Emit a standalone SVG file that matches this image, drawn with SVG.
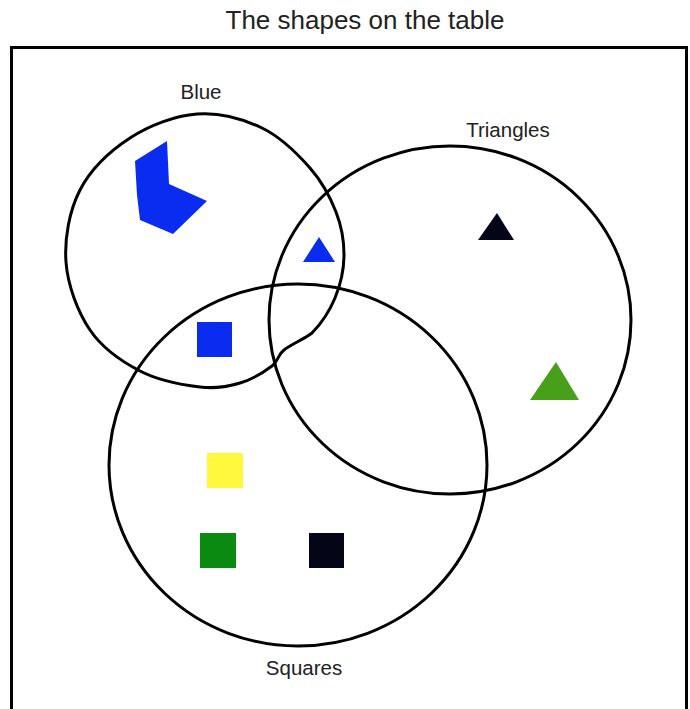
<svg xmlns="http://www.w3.org/2000/svg" width="690" height="709" viewBox="0 0 690 709">
  <style>
    .set { fill: none; stroke: #000; stroke-width: 3; stroke-linejoin: round; }
    .label { font-family: "Liberation Sans", Arial, sans-serif; fill: #222; }
    .lbl { font-size: 20.5px; text-anchor: middle; }
    .title { font-size: 26px; text-anchor: middle; }
  </style>
  <rect width="690" height="709" fill="#fff"/>
  <text class="label title" x="365" y="29">The shapes on the table</text>
  <rect id="table" x="11.5" y="47.5" width="675" height="700" fill="none" stroke="#000" stroke-width="3"/>

  <g id="set-blue">
    <path class="set" d="M197,114 C219,112.3 243.2,119 262,128 C280.8,137 297.7,154 310,168 C322.3,182 330.3,197.3 336,212 C341.7,226.7 344.2,241.7 344,256 C343.8,270.3 340.3,285.2 335,298 C329.7,310.8 320.5,324.3 312,333 C305.3,338.5 290.7,344.5 284,350 C276.7,355.5 279.3,360.5 272,366 C264.7,371.5 252,379.5 240,383 C228,386.5 216.7,389 200,387 C183.3,385 158.3,380.5 140,371 C121.7,361.5 102.3,348.2 90,330 C77.7,311.8 67.7,285.3 66,262 C64.3,238.7 69.3,210.7 80,190 C90.7,169.3 110.5,150.7 130,138 C149.5,125.3 175,115.7 197,114 Z"/>
    <text class="label lbl" x="201" y="99">Blue</text>
  </g>

  <g id="set-triangles">
    <ellipse class="set" cx="450" cy="320" rx="181" ry="174"/>
    <text class="label lbl" x="508" y="137">Triangles</text>
  </g>

  <g id="set-squares">
    <ellipse class="set" cx="298" cy="465" rx="189" ry="181"/>
    <text class="label lbl" x="304" y="675">Squares</text>
  </g>

  <g id="blue-polygon">
    <polygon points="135,161 167,141 169,184 207,201 173,234 140,220 137,195" fill="#0a2bf0"/>
  </g>
  <g id="blue-triangle">
    <polygon points="319,237 303,262 335,262" fill="#0a2bf0"/>
  </g>
  <g id="black-triangle">
    <polygon points="497,213 478,240 514,240" fill="#05051a"/>
  </g>
  <g id="green-triangle">
    <polygon points="556,362 530,400 579,400" fill="#48a01a"/>
  </g>
  <g id="blue-square">
    <rect x="197" y="322" width="35" height="35" fill="#0a2bf0"/>
  </g>
  <g id="yellow-square">
    <rect x="207" y="453" width="36" height="35" fill="#fff83c"/>
  </g>
  <g id="green-square">
    <rect x="200" y="533" width="36" height="35" fill="#0a8a10"/>
  </g>
  <g id="black-square">
    <rect x="309" y="533" width="35" height="35" fill="#050518"/>
  </g>
</svg>
